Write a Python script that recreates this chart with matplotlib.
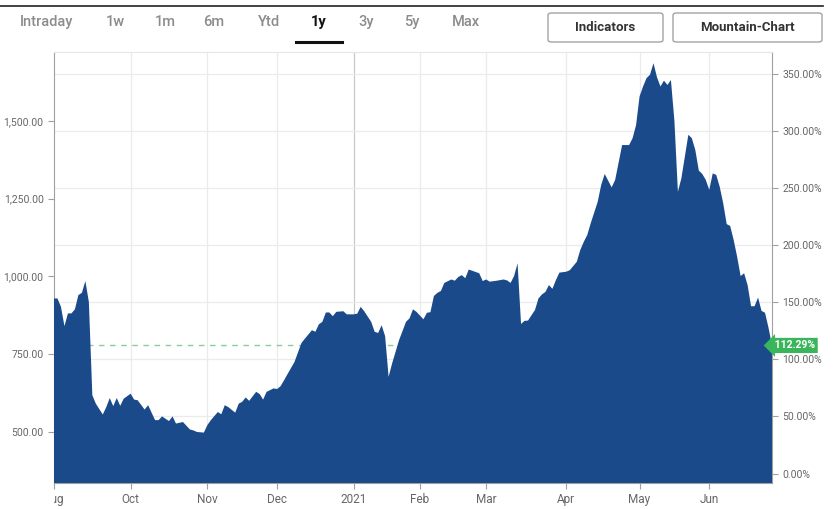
import numpy as np
import pandas as pd
import matplotlib
matplotlib.use("Agg")
import matplotlib.pyplot as plt
from matplotlib.patches import FancyBboxPatch
from matplotlib.lines import Line2D
from matplotlib.transforms import Bbox, TransformedBbox, blended_transform_factory

plt.rcParams['font.family'] = ['Roboto', 'DejaVu Sans']

# trading sessions (index from first session) and closing prices
sessions = [0, 1, 2, 3, 4, 5, 6, 7, 8, 9, 10, 11, 12, 14, 15, 16, 17, 18, 19, 20,
            22, 23, 24, 26, 27, 29, 30, 31, 33, 34, 35, 37, 39, 40, 41, 43, 44, 45,
            47, 48, 49, 50, 52, 53, 54, 55, 56, 58, 59, 60, 61, 63, 64, 65, 66, 67,
            69, 71, 72, 74, 75, 76, 77, 78, 79, 80, 81, 83, 84, 86, 87, 88, 89, 91,
            92, 93, 94, 95, 96, 97, 99, 101, 102, 103, 104, 106, 107, 108, 109, 110,
            111, 112, 114, 115, 116, 117, 118, 119, 120, 122, 123, 124, 125, 127,
            129, 130, 131, 132, 133, 134, 135, 136, 138, 139, 140, 141, 142, 143,
            144, 145, 147, 148, 150, 151, 152, 153, 154, 156, 157, 158, 160, 161,
            163, 165, 166, 167, 168, 169, 170, 171, 172, 173, 174, 175, 176, 177,
            178, 179, 180, 182, 183, 184, 185, 186, 187, 188, 189, 190, 191, 192,
            193, 194, 195, 196, 197, 198, 199, 200, 201, 202, 203, 204, 205, 206]
prices = [929, 929, 902, 840, 881, 881, 894, 940, 947, 985, 918, 618, 591, 556, 580, 609, 583, 609, 584, 607,
          623, 604, 602, 572, 586, 538, 538, 550, 535, 550, 527, 532, 508, 505, 500, 498, 522, 538,
          564, 557, 586, 580, 562, 591, 597, 611, 600, 629, 622, 604, 629, 640, 638, 647, 666, 686,
          725, 786, 800, 827, 822, 846, 854, 884, 884, 872, 886, 888, 878, 878, 880, 902, 888, 854,
          822, 818, 843, 808, 677, 720, 795, 854, 865, 894, 886, 862, 883, 885, 937, 947,
          953, 979, 990, 986, 998, 1004, 994, 1022, 1018, 1010, 985, 990, 983, 986,
          990, 987, 979, 1001, 1042, 847, 857, 858, 892, 929, 942, 950, 972, 960,
          988, 1012, 1015, 1020, 1047, 1085, 1111, 1133, 1171, 1240, 1294, 1329, 1286, 1310,
          1422, 1422, 1444, 1486, 1578, 1610, 1637, 1648, 1685, 1640, 1610, 1629, 1615, 1631,
          1500, 1272, 1315, 1455, 1444, 1406, 1340, 1329, 1310, 1278, 1331, 1326, 1288, 1235,
          1168, 1162, 1117, 1063, 1001, 1010, 972, 904, 904, 932, 889, 883, 835, 778]

base_price = 366.48  # 0 % level of the right axis

holidays = ['2020-09-07', '2020-11-26', '2020-12-25', '2021-01-01',
            '2021-01-18', '2021-02-15', '2021-04-02', '2021-05-31']
calendar = pd.bdate_range('2020-08-31', '2021-06-25').drop(pd.to_datetime(holidays))

tick_dates = ['2020-08-31', '2020-10-01', '2020-11-02', '2020-12-01', '2021-01-04',
              '2021-02-01', '2021-03-01', '2021-04-01', '2021-05-03', '2021-06-01']
tick_labels = ['Aug', 'Oct', 'Nov', 'Dec', '2021', 'Feb', 'Mar', 'Apr', 'May', 'Jun']
price_ticks = [500, 750, 1000, 1250, 1500]
pct_ticks = [0, 50, 100, 150, 200, 250, 300, 350]
tabs = ['Intraday', '1w', '1m', '6m', 'Ytd', '1y', '3y', '5y', 'Max']


def to_pct(p):
    return (np.asarray(p) / base_price - 1) * 100


def to_price(q):
    return (np.asarray(q) / 100 + 1) * base_price


W, H = 835, 509
fig = plt.figure(figsize=(W / 100, H / 100), dpi=100)
ax = fig.add_axes([54 / W, 1 - 483 / H, (772 - 54) / W, (483 - 52) / H])

fill_color = '#1b4a8b'
ax.fill_between(sessions, prices, 0, color=fill_color, lw=0, zorder=3)
ax.axhline(prices[-1], color='#86cf98', lw=1, ls=(0, (4, 4)), zorder=2)

ax.set_xlim(0, len(calendar) - 1)
ax.set_ylim(336, 1721)

# month grid
tick_pos = [calendar.get_loc(pd.Timestamp(d)) for d in tick_dates]
for pos, lab in zip(tick_pos[1:], tick_labels[1:]):
    ax.axvline(pos, color='#c9c9c9' if lab == '2021' else '#ebebeb', lw=0.9, zorder=1)
for q in pct_ticks:
    ax.axhline(to_price(q), color='#ebebeb', lw=0.9, zorder=1)

ax.set_xticks(tick_pos)
ax.set_xticklabels(tick_labels)
ax.set_yticks(price_ticks)
ax.set_yticklabels([f"{v:,.2f}" for v in price_ticks])
ax.tick_params(axis='both', direction='out', length=4, width=0.8, color='#a0a0a0',
               labelcolor='#666666', labelsize=7.5)
ax.tick_params(axis='x', labelsize=8.5, pad=3)

for side in ['left', 'bottom']:
    ax.spines[side].set_color('#a0a0a0')
ax.spines['top'].set_color('#e6e6e6')
ax.spines['right'].set_visible(False)

# first label "Aug" is cut at the left edge
first = ax.get_xticklabels()[0]
clip_tr = blended_transform_factory(ax.transAxes, fig.transFigure)
first.set_clip_box(TransformedBbox(Bbox([[0, 0], [1, 1]]), clip_tr))
first.set_clip_on(True)

sec = ax.secondary_yaxis('right', functions=(to_pct, to_price))
sec.set_yticks(pct_ticks)
sec.set_yticklabels([f"{v:.2f}%" for v in pct_ticks])
sec.tick_params(direction='out', length=4, width=0.8, color='#a0a0a0',
                labelcolor='#666666', labelsize=7.5)
sec.spines['right'].set_color('#a0a0a0')

# last value badge
last_pct = to_pct(prices[-1])
badge_tr = blended_transform_factory(ax.transAxes, ax.transData)
ax.text(1.0, prices[-1], f" {last_pct:.2f}%", transform=badge_tr, ha='left', va='center',
        fontsize=7.5, color='white', fontweight='bold', clip_on=False, zorder=5,
        bbox=dict(boxstyle='larrow,pad=0.25', fc='#3bb55c', ec='none'))

# header
fig.add_artist(Line2D([0, 823 / W], [1 - 6 / H, 1 - 6 / H], color='#222222', lw=1.2,
                      transform=fig.transFigure))
tab_x = [47, 115, 165, 214, 269, 319, 366, 412, 466]
for tx, name in zip(tab_x, tabs):
    active = name == '1y'
    fig.text(tx / W, 1 - 22 / H, name, ha='center', va='center', fontsize=10.5,
             color='#111111' if active else '#8c8c8c',
             fontweight='bold' if active else 'medium')
fig.add_artist(Line2D([296 / W, 342 / W], [1 - 41.5 / H, 1 - 41.5 / H], color='#111111',
                      lw=2.2, transform=fig.transFigure))

for x0, x1, label in [(548, 663, 'Indicators'), (673, 822, 'Mountain-Chart')]:
    fig.add_artist(FancyBboxPatch((x0 / W, 1 - 42 / H), (x1 - x0) / W, 29 / H,
                                  boxstyle='round,pad=0,rounding_size=0.004',
                                  fc='white', ec='#9a9a9a', lw=0.9,
                                  transform=fig.transFigure))
    fig.text((x0 + x1) / 2 / W, 1 - 27.5 / H, label, ha='center', va='center',
             fontsize=9.5, color='#333333', fontweight='bold')

fig.savefig('out.png', dpi=100)
